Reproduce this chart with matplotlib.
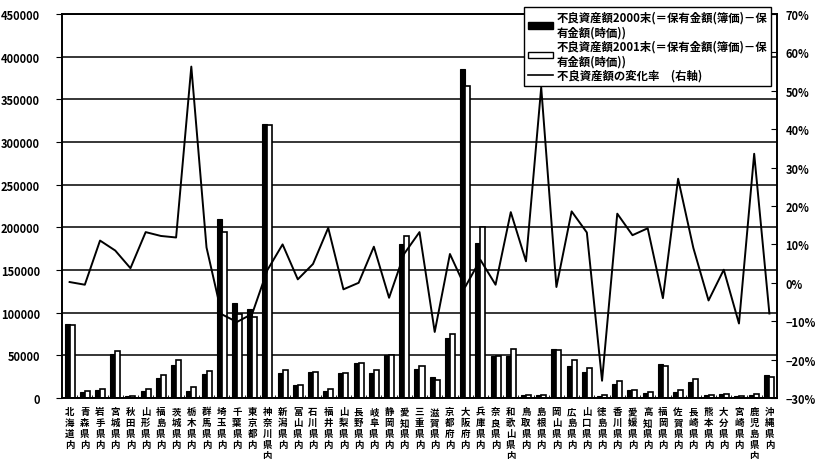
import matplotlib.pyplot as plt
import numpy as np
from matplotlib.patches import Patch
from matplotlib.lines import Line2D
from matplotlib.ticker import MultipleLocator, PercentFormatter

plt.rcParams['font.family'] = ['Noto Sans CJK JP', 'DejaVu Sans']

prefectures = [
    '北海道内', '青森県内', '岩手県内', '宮城県内', '秋田県内', '山形県内', '福島県内',
    '茨城県内', '栃木県内', '群馬県内', '埼玉県内', '千葉県内', '東京都内', '神奈川県内',
    '新潟県内', '富山県内', '石川県内', '福井県内', '山梨県内', '長野県内', '岐阜県内',
    '静岡県内', '愛知県内', '三重県内', '滋賀県内', '京都府内', '大阪府内', '兵庫県内',
    '奈良県内', '和歌山県内', '鳥取県内', '島根県内', '岡山県内', '広島県内', '山口県内',
    '徳島県内', '香川県内', '愛媛県内', '高知県内', '福岡県内', '佐賀県内', '長崎県内',
    '熊本県内', '大分県内', '宮崎県内', '鹿児島県内', '沖縄県内',
]

# 不良資産額 (2000年末 / 2001年末)
npl_2000 = [
    87000, 7000, 9000, 51000, 2000, 8500, 24000,
    39000, 8500, 28500, 210000, 111000, 104500, 321000,
    29500, 15000, 31000, 8500, 29000, 41000, 29000,
    50000, 180000, 34000, 25000, 70000, 385000, 182000,
    49000, 49000, 3000, 3000, 58000, 37000, 31000,
    2000, 16000, 9000, 6000, 40000, 7500, 19000,
    3500, 4500, 2000, 3500, 27000,
]
npl_2001 = [
    86000, 8000, 10000, 55000, 2000, 10500, 27000,
    44000, 12500, 31500, 194000, 99000, 95000, 320000,
    32500, 15000, 31000, 10000, 29000, 41000, 32500,
    50000, 190000, 38000, 21000, 75000, 366000, 200000,
    49000, 57000, 4000, 4000, 56000, 44000, 35000,
    3000, 19500, 9500, 7500, 38000, 9500, 22000,
    4000, 5000, 2000, 4500, 25000,
]

# 変化率 (%)
change_rate = [
    0.2, -0.5, 11.0, 8.4, 3.8, 13.2, 12.2,
    11.8, 56.3, 9.2, -8.2, -10.2, -8.1, 3.3,
    10.0, 0.9, 4.9, 14.3, -1.7, 0.0, 9.4,
    -3.9, 7.6, 13.2, -12.8, 7.5, -1.1, 6.0,
    -0.5, 18.4, 5.6, 50.9, -1.1, 18.6, 13.1,
    -25.5, 18.0, 12.4, 14.2, -4.0, 27.1, 9.1,
    -4.6, 3.4, -10.6, 33.6, -8.0,
]

legend_labels = [
    '不良資産額2000末(＝保有金額(簿価)－保\n有金額(時価))',
    '不良資産額2001末(＝保有金額(簿価)－保\n有金額(時価))',
    '不良資産額の変化率　(右軸)',
]

fig = plt.figure(figsize=(8.33, 4.6), dpi=100)
ax = fig.add_axes([62 / 833, 61 / 460, 715 / 833, 384 / 460])

x = np.arange(len(prefectures))
w = 0.33
ax.bar(x - w / 2, npl_2000, w, color='black', edgecolor='black', linewidth=0.8, zorder=2)
ax.bar(x + w / 2, npl_2001, w, color='white', edgecolor='black', linewidth=1.2, zorder=2)

ax.set_xlim(-0.5, len(x) - 0.5)
ax.set_ylim(0, 450000)
ax.yaxis.set_major_locator(MultipleLocator(50000))
ax.grid(axis='y', color='black', linewidth=1.1)
ax.set_axisbelow(True)

# prefecture names written top to bottom
ax.set_xticks(x)
ax.set_xticklabels(['\n'.join(p) for p in prefectures], fontsize=6.8,
                   fontweight='bold', linespacing=1.12, va='top')
ax.tick_params(axis='x', which='major', length=0, pad=6)
ax.set_xticks(np.arange(-0.5, len(x), 1), minor=True)
ax.tick_params(axis='x', which='minor', direction='in', length=2)
ax.tick_params(axis='y', direction='out', length=4, pad=12, labelsize=8)
for lbl in ax.get_yticklabels():
    lbl.set_fontweight('bold')
for spine in ax.spines.values():
    spine.set_linewidth(1.2)

# change rate on the right axis
ax2 = ax.twinx()
ax2.plot(x, change_rate, color='black', linewidth=1.4)
ax2.set_ylim(-30, 70)
ax2.yaxis.set_major_locator(MultipleLocator(10))
ax2.yaxis.set_major_formatter(PercentFormatter(decimals=0))
ax2.tick_params(axis='y', direction='in', length=4, pad=6, labelsize=8)
for lbl in ax2.get_yticklabels():
    lbl.set_fontweight('bold')
for spine in ax2.spines.values():
    spine.set_linewidth(1.2)

handles = [
    Patch(facecolor='black', edgecolor='black'),
    Patch(facecolor='white', edgecolor='black', linewidth=1.0),
    Line2D([0], [0], color='black', linewidth=1.2),
]
leg = fig.legend(handles, legend_labels, loc='upper right',
                 bbox_to_anchor=(777 / 833, 1 - 2 / 460),
                 frameon=True, fancybox=False, edgecolor='black', framealpha=1,
                 prop={'size': 8.2, 'weight': 'bold'},
                 handlelength=2.2, handleheight=0.5,
                 borderpad=0.35, labelspacing=0.1, handletextpad=0.3)
leg.get_frame().set_linewidth(1.0)

fig.savefig('out.png', dpi=100)
